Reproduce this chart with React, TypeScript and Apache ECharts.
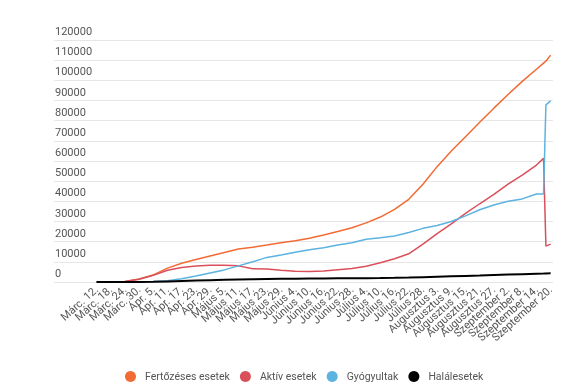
import React, { useEffect, useRef } from "react";
import * as echarts from "echarts";

// Tick labels, one per 6 days starting at day 0 (Márc. 12.)
const tickLabels = [
  "Márc. 12.", "Márc. 18.", "Márc. 24.", "Márc. 30.", "Ápr. 5.", "Ápr. 11.", "Ápr. 17.",
  "Ápr. 23.", "Ápr. 29.", "Május 5.", "Május 11.", "Május 17.", "Május 23.", "Május 29.",
  "Június 4.", "Június 10.", "Június 16.", "Június 22.", "Június 28.", "Július 4.",
  "Július 10.", "Július 16.", "Július 22.", "Július 28.", "Augusztus 3.", "Augusztus 9.",
  "Augusztus 15.", "Augusztus 21.", "Augusztus 27.", "Szeptember 2.", "Szeptember 8.",
  "Szeptember 14.", "Szeptember 20.",
];

// Day index (days since Márc. 12.) of each sampled point
const days = [
  0, 6, 12, 18, 24, 30, 36, 42, 48, 54, 60, 66, 72, 78, 84, 90, 96, 102, 108, 114,
  120, 126, 132, 138, 144, 150, 156, 162, 168, 174, 180, 186, 189, 190, 192,
];

const fertozeses = [
  0, 50, 300, 1500, 3500, 6900, 9300, 11200, 12900, 14600, 16400, 17200, 18300, 19500,
  20500, 21700, 23300, 25000, 26900, 29300, 32200, 36000, 41000, 48500, 57200, 65000,
  72000, 79200, 86200, 93000, 99500, 105500, 108500, 109500, 112500,
];

const aktiv = [
  0, 50, 300, 1400, 3300, 5800, 7200, 7900, 8300, 8300, 8000, 6600, 6400, 5800, 5300,
  5200, 5500, 6100, 6700, 7800, 9500, 11500, 14000, 18800, 24000, 28800, 34000, 38800,
  43500, 48500, 53000, 58000, 61300, 17800, 18800,
];

const gyogyultak = [
  0, 0, 0, 50, 200, 600, 1600, 3000, 4500, 6000, 8000, 10000, 12200, 13400, 14800,
  16000, 17000, 18300, 19500, 21200, 21900, 22800, 24500, 26600, 28000, 30000, 32800,
  35800, 38200, 40000, 41200, 43600, 43600, 87800, 89800,
];

const halalesetek = [
  0, 0, 10, 30, 100, 300, 500, 700, 900, 1100, 1300, 1400, 1500, 1600, 1650, 1700, 1750,
  1800, 1850, 1900, 1950, 2050, 2200, 2400, 2600, 2800, 3000, 3200, 3450, 3700, 3900,
  4100, 4200, 4250, 4300,
];

const seriesNames = ["Fertőzéses esetek", "Aktív esetek", "Gyógyultak", "Halálesetek"];
const seriesColors = ["#f26b35", "#d9505b", "#5bb3e0", "#000000"];
const seriesValues = [fertozeses, aktiv, gyogyultak, halalesetek];

export default function App() {
  const ref = useRef<HTMLDivElement>(null);

  useEffect(() => {
    if (!ref.current) return;
    const chart = echarts.init(ref.current, undefined, { renderer: "svg" });
    const font = "Roboto, Inter, 'Noto Sans', sans-serif";
    chart.setOption({
      animation: false,
      textStyle: { fontFamily: font },
      grid: { left: 54, right: 22, top: 40, bottom: 105, containLabel: false },
      legend: {
        top: 366,
        left: 120,
        icon: "circle",
        itemWidth: 11,
        itemHeight: 11,
        itemGap: 10,
        data: seriesNames,
        textStyle: { color: "#555", fontSize: 10.5, fontFamily: font, padding: [0, 0, 0, 4] },
      },
      xAxis: {
        type: "value",
        min: -18,
        max: 193,
        interval: 6,
        axisLine: { show: false },
        axisTick: { show: false },
        splitLine: { show: false },
        axisLabel: {
          rotate: 42,
          margin: 6,
          color: "#555",
          fontSize: 11,
          fontFamily: font,
          showMaxLabel: false,
          showMinLabel: false,
          formatter: (v: number) =>
            v >= 0 && v % 6 === 0 ? tickLabels[v / 6] ?? "" : "",
        },
      },
      yAxis: {
        type: "value",
        min: 0,
        max: 120000,
        interval: 10000,
        axisLine: { show: false },
        axisTick: { show: false },
        splitLine: { lineStyle: { color: "#e6e6e6", width: 1 } },
        axisLabel: {
          inside: true,
          margin: 1,
          align: "left",
          verticalAlign: "bottom",
          padding: [0, 0, 3, 0],
          color: "#555",
          fontSize: 11,
          fontFamily: font,
          formatter: (v: number) => String(v),
        },
      },
      series: seriesNames.map((name, i) => ({
        name,
        type: "line",
        showSymbol: false,
        symbol: "circle",
        color: seriesColors[i],
        lineStyle: { color: seriesColors[i], width: i === 3 ? 2 : 1.5 },
        data: days.map((d, j) => [d, seriesValues[i][j]]),
      })),
    });
    return () => chart.dispose();
  }, []);

  return (
    <div
      ref={ref}
      style={{ position: "fixed", left: 0, top: 0, width: 575, height: 387 }}
    />
  );
}
